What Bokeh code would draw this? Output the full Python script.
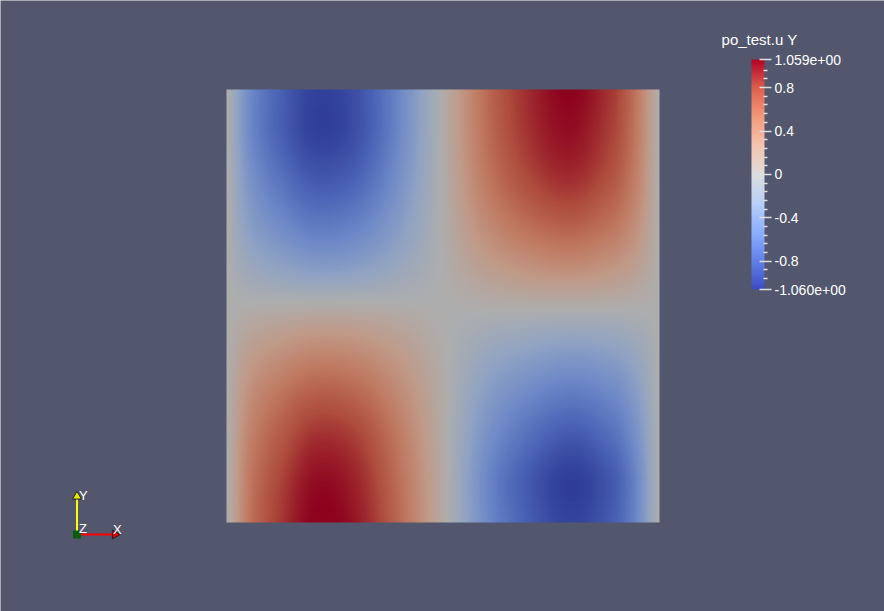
import numpy as np
from bokeh.plotting import figure
from bokeh.models import Range1d, LinearColorMapper, ColorBar, FixedTicker, Label, AllLabels
from bokeh.embed import file_html
from bokeh.resources import INLINE

# ---------------- data ----------------
field_name = "po_test.u Y"
range_low, range_high = -1.060, 1.059

# sample positions across the square (fraction of width, left -> right)
grid_u = [0.0, 0.05, 0.1, 0.2, 0.3, 0.4, 0.5, 0.6, 0.7, 0.8, 0.9, 0.95, 1.0]
# sample positions down the square (fraction of height, top -> bottom)
grid_v = [0.0, 0.1, 0.2, 0.3, 0.4, 0.5, 0.6, 0.7, 0.8, 0.9, 1.0]

# u_Y values, one row per grid_v (top row first), one column per grid_u
row_v00 = [0.0, -0.50, -0.75, -1.02, -0.93, -0.54, 0.03, 0.60, 0.92, 1.06, 0.84, 0.52, 0.0]
row_v01 = [0.0, -0.50, -0.75, -1.02, -0.93, -0.53, 0.03, 0.58, 0.89, 1.01, 0.80, 0.50, 0.0]
row_v02 = [0.0, -0.42, -0.64, -0.88, -0.81, -0.46, 0.03, 0.52, 0.80, 0.91, 0.72, 0.45, 0.0]
row_v03 = [0.0, -0.32, -0.48, -0.67, -0.61, -0.35, 0.02, 0.40, 0.62, 0.71, 0.56, 0.35, 0.0]
row_v04 = [0.0, -0.18, -0.27, -0.38, -0.35, -0.20, 0.01, 0.23, 0.36, 0.41, 0.32, 0.20, 0.0]
row_v05 = [0.0, 0.01, 0.02, 0.03, 0.03, 0.02, 0.0, 0.02, 0.03, 0.03, 0.02, 0.01, 0.0]
row_v06 = [0.0, 0.19, 0.28, 0.39, 0.36, 0.22, 0.02, -0.17, -0.27, -0.33, -0.27, -0.17, 0.0]
row_v07 = [0.0, 0.33, 0.49, 0.67, 0.62, 0.38, 0.04, -0.32, -0.52, -0.62, -0.51, -0.32, 0.0]
row_v08 = [0.0, 0.43, 0.64, 0.88, 0.82, 0.50, 0.05, -0.44, -0.72, -0.87, -0.70, -0.44, 0.0]
row_v09 = [0.0, 0.50, 0.74, 1.01, 0.93, 0.57, 0.06, -0.53, -0.87, -1.04, -0.85, -0.53, 0.0]
row_v10 = [0.0, 0.53, 0.79, 1.06, 0.98, 0.61, 0.06, -0.51, -0.85, -1.01, -0.83, -0.52, 0.0]
uy_rows = [row_v00, row_v01, row_v02, row_v03, row_v04, row_v05,
           row_v06, row_v07, row_v08, row_v09, row_v10]

# colour-bar ticks
bar_ticks = [1.059, 0.8, 0.4, 0.0, -0.4, -0.8, -1.06]
bar_tick_labels = ["1.059e+00", "0.8", "0.4", "0", "-0.4", "-0.8", "-1.060e+00"]
bar_minor_ticks = [0.96, 0.88, 0.72, 0.64, 0.56, 0.48, 0.32, 0.24, 0.16, 0.08,
                   -0.08, -0.16, -0.24, -0.32, -0.48, -0.56, -0.64, -0.72,
                   -0.88, -0.96]

# ---------------- layout / style ----------------
W, H = 884, 611
BG = "#52576e"
SQ_X, SQ_Y, SQ_SIZE = 226, 611 - 522, 433   # square bottom-left (y from bottom)
N_PIX = 433

# Cool-to-Warm colour map control points
cw_pos = [0.0, 0.125, 0.25, 0.375, 0.5, 0.625, 0.75, 0.875, 1.0]
cw_rgb = [(59, 76, 192), (98, 130, 234), (141, 176, 254), (184, 208, 249),
          (221, 221, 221), (245, 196, 173), (244, 154, 123), (222, 96, 77),
          (180, 4, 38)]


def make_palette(shade, n=256):
    t = np.linspace(0, 1, n)
    arr = np.array(cw_rgb, dtype=float)
    out = []
    for ti in t:
        rgb = [np.interp(ti, cw_pos, arr[:, c]) * shade for c in range(3)]
        out.append("#%02x%02x%02x" % tuple(int(round(min(255, v))) for v in rgb))
    return out


lit_palette = make_palette(0.785)
bar_palette = make_palette(1.0)


def catmull_rom_matrix(pos_in, n_out):
    pos_in = np.asarray(pos_in, dtype=float)
    n_in = len(pos_in)
    t_all = np.interp(np.linspace(pos_in[0], pos_in[-1], n_out), pos_in, np.arange(n_in))
    M = np.zeros((n_out, n_in))
    for k, t in enumerate(t_all):
        i = min(int(np.floor(t)), n_in - 2)
        s = t - i
        w = [(-s**3 + 2 * s**2 - s) / 2, (3 * s**3 - 5 * s**2 + 2) / 2,
             (-3 * s**3 + 4 * s**2 + s) / 2, (s**3 - s**2) / 2]
        for j, wj in zip(range(i - 1, i + 3), w):
            if j < 0:
                M[k, 0] += 2 * wj
                M[k, 1] -= wj
            elif j > n_in - 1:
                M[k, n_in - 1] += 2 * wj
                M[k, n_in - 2] -= wj
            else:
                M[k, j] += wj
    return M


G = np.array(uy_rows, dtype=float)
Mx = catmull_rom_matrix(grid_u, N_PIX)
My = catmull_rom_matrix(grid_v, N_PIX)
field = My @ G @ Mx.T
field = np.clip(field, range_low, range_high)
img = np.flipud(field)  # bokeh image rows go bottom -> top

p = figure(width=W, height=H, output_backend="svg", toolbar_location=None,
           x_range=Range1d(0, W), y_range=Range1d(0, H),
           min_border=0, outline_line_color=None,
           background_fill_color=BG, border_fill_color=BG)
p.axis.visible = False
p.grid.visible = False

lit_mapper = LinearColorMapper(palette=lit_palette, low=range_low, high=range_high)
p.image(image=[img], x=SQ_X, y=SQ_Y, dw=SQ_SIZE, dh=SQ_SIZE, color_mapper=lit_mapper)

# colour bar
bar_mapper = LinearColorMapper(palette=bar_palette, low=range_low, high=range_high)
overrides = {t: lab for t, lab in zip(bar_ticks, bar_tick_labels)}
cb = ColorBar(color_mapper=bar_mapper, orientation="vertical",
              width=13, height=230, location=(751, H - 289),
              padding=0, margin=0,
              ticker=FixedTicker(ticks=bar_ticks, minor_ticks=bar_minor_ticks),
              major_label_overrides=overrides,
              major_label_policy=AllLabels(),
              major_label_text_color="white",
              major_label_text_font="Liberation Sans",
              major_label_text_font_size="14px",
              major_tick_in=5, major_tick_out=7,
              minor_tick_in=1, minor_tick_out=3,
              major_tick_line_color="#e0e0e0", minor_tick_line_color="#e0e0e0",
              major_tick_line_width=1.5, minor_tick_line_width=1.5,
              label_standoff=3,
              bar_line_color=None, border_line_color=None,
              background_fill_alpha=0)
p.add_layout(cb, "center")

p.add_layout(Label(x=759, y=H - 39, text=field_name, text_align="center",
                   text_baseline="middle", text_color="white",
                   text_font="Liberation Sans", text_font_size="15px"))

# orientation triad
OX, OY = 76.5, H - 534
p.segment(x0=[OX], y0=[OY], x1=[OX], y1=[OY + 36], line_color="#ffff00", line_width=2)
p.segment(x0=[OX], y0=[OY], x1=[OX + 35], y1=[OY], line_color="#ff0000", line_width=2)
p.scatter(x=[OX], y=[OY + 38], marker="triangle", size=9,
          fill_color="#e6e600", line_color="#222222", line_width=1)
p.scatter(x=[OX + 38], y=[OY], marker="triangle", angle=-np.pi / 2, size=9,
          fill_color="#dd0000", line_color="#222222", line_width=1)
p.scatter(x=[OX], y=[OY], marker="square", size=7, fill_color="#0b5d0b", line_color="#0b5d0b")
for tx, ty, t in [(OX + 2, OY + 39, "Y"), (OX + 36, OY + 5, "X"), (OX + 2, OY + 6, "Z")]:
    p.add_layout(Label(x=tx, y=ty, text=t, text_align="left", text_baseline="middle",
                       text_color="white", text_font="Liberation Sans",
                       text_font_size="13px"))

open("out.html", "w").write(file_html(p, INLINE))
